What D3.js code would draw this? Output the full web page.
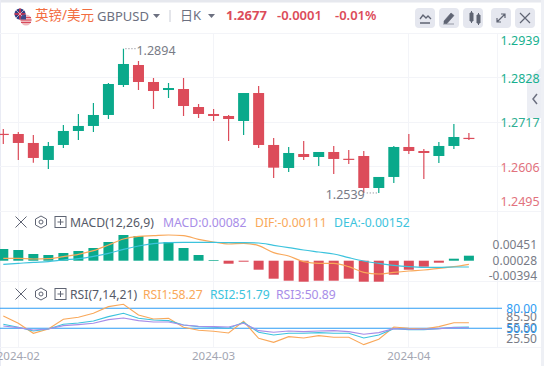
<!DOCTYPE html>
<html><head><meta charset="utf-8">
<style>html,body{margin:0;padding:0;background:#fff;overflow:hidden}svg{display:block}text{font-family:"Noto Sans","Noto Sans CJK SC",sans-serif}</style>
<script src="https://cdn.jsdelivr.net/npm/d3@7"></script></head><body>
<script>
const opens=[1.26875,1.26871,1.26647,1.26223,1.26597,1.26946,1.27071,1.27345,1.28093,1.28592,1.28168,1.27968,1.27993,1.27544,1.2737,1.2732,1.27195,1.27893,1.26597,1.26023,1.26372,1.26297,1.26422,1.26253,1.26322,1.25524,1.25799,1.26547,1.26447,1.26322,1.26572,1.26775];
const closes=[1.26865,1.26647,1.26273,1.26572,1.26946,1.27071,1.27345,1.28118,1.28617,1.28168,1.27943,1.28018,1.27569,1.2737,1.2732,1.27245,1.27893,1.26597,1.26031,1.26397,1.26297,1.26422,1.26248,1.26243,1.25524,1.25799,1.26547,1.26447,1.26397,1.26572,1.26796,1.26765];
const highs=[1.26996,1.26921,1.26846,1.26672,1.27095,1.2737,1.27644,1.28143,1.28998,1.28692,1.28268,1.28143,1.28268,1.27619,1.27495,1.27345,1.27893,1.28068,1.26771,1.26547,1.26696,1.26422,1.26572,1.26472,1.26447,1.25799,1.26572,1.26871,1.26497,1.26672,1.2712,1.26896];
const lows=[1.26622,1.26223,1.26155,1.25998,1.26522,1.26721,1.26921,1.27245,1.28043,1.27968,1.27495,1.27769,1.2732,1.2727,1.27195,1.26696,1.26846,1.26522,1.25774,1.25923,1.26223,1.26073,1.25873,1.26123,1.254,1.254,1.25649,1.26372,1.25749,1.26148,1.26497,1.26721];
const priceTicks=[1.2939,1.2828,1.2717,1.2606,1.2495];
const macdBars=[.00316,.00289,.00181,.00154,.00208,.00262,.00343,.00505,.00694,.00667,.00586,.00505,.00343,.00154,.00019,-.00081,-.00027,-.00243,-.00486,-.0054,-.00567,-.0054,-.0054,-.00486,-.00567,-.00567,-.00378,-.00243,-.00162,-.00054,.00054,.00135];
const difLine=[.00064,.00064,.00046,.00055,.00109,.00172,.00271,.00424,.00586,.00658,.00676,.00694,.00676,.00577,.00505,.00451,.00469,.00406,.00217,.00127,-.00026,-.00071,-.00071,-.00161,-.00314,-.00359,-.00314,-.00278,-.00251,-.00206,-.00161,-.00098];
const deaLine=[-.00098,-.00071,-.00044,-.00026,.00019,.00055,.00118,.00199,.00307,.00397,.0046,.00487,.00496,.00496,.00496,.00487,.00487,.00478,.00415,.00352,.00289,.00235,.00181,.00082,-.00008,-.00071,-.00125,-.00161,-.00179,-.00179,-.0017,-.0017];
const macdTicks=[.00451,.00028,-.00394];
const rsi1=[68.5,57.5,42.5,49,63.5,66.5,72.5,82.5,86,70,64,65,51.5,47,45.5,43,60.5,35,29,37.5,35.5,39,36.5,36.5,25.5,33.5,52,50,49,52.5,58.27,58.27];
const rsi2=[56,51.5,46,49,56,58,61,67.5,72.5,65,62.5,61.5,55,52.5,51.5,50,59,44,40,42.5,42.5,43.5,42.5,42.5,35.5,40,49.5,48,48,49.5,51.5,51.79];
const rsi3=[53.5,51,47.5,49,54,55.5,57.5,63,65.5,61.5,59.5,59.5,55,53,52.5,52,57.5,46.5,44,46,45,46,46.5,45,41,43.5,49.5,48.5,48.5,49.5,51,50.89];
const rsiLevels=[80,50];
const rsiTicks=[85.5,55.5,25.5];
const dateLabels=[["2024-02",1],["2024-03",14],["2024-04",27]];

const W=544,H=366,GREEN="#0aa98b",RED="#dc4c5a",GRID="#f3f4f8",GRAY="#787b86";
const svg=d3.select("body").append("svg").attr("width",W).attr("height",H);
const x=d3.scaleLinear().domain([0,31]).range([3.3,468.9]);
const y=d3.scaleLinear().domain([1.2939,1.2495]).range([33,211]);
const ym=d3.scaleLinear().domain([0,.00451]).range([260.7,244]);
const yr=d3.scaleLinear().domain([80,50]).range([308.3,328.3]);
const yrt=d3.scaleLinear().domain([85.5,25.5]).range([316.2,338.2]);
const n=opens.length, idx=d3.range(n);

// page frame
svg.append("rect").attr("width",W).attr("height",H).attr("fill","#fff");
svg.append("rect").attr("width",W).attr("height",2.5).attr("fill","#e6e8ee");
svg.append("rect").attr("x",541).attr("width",3).attr("height",H).attr("fill","#eef0f5");
svg.append("rect").attr("width",1).attr("height",H).attr("fill","#e9ebf4");

// side tab, behind the axis labels
svg.append("path").attr("d","M527 79L541 68V118L527 118Z").attr("fill","#eceef4");
svg.append("path").attr("d","M537 94l-4 5 4 5").attr("fill","none").attr("stroke","#6c7080").attr("stroke-width",1.5);

// grid
const grid=svg.append("g").attr("stroke",GRID).attr("stroke-width",1).attr("shape-rendering","crispEdges");
[33,77.5,122,166.5,211,281.7,347.5].forEach(v=>grid.append("line").attr("x1",0).attr("x2",541).attr("y1",v).attr("y2",v));
dateLabels.forEach(d=>grid.append("line").attr("x1",x(d[1])).attr("x2",x(d[1])).attr("y1",33).attr("y2",347));
grid.append("line").attr("x1",497).attr("x2",497).attr("y1",33).attr("y2",347);

// candles
const color=i=>closes[i]>=opens[i]?GREEN:RED;
const c=svg.append("g");
c.selectAll("line").data(idx).join("line").attr("x1",x).attr("x2",x)
 .attr("y1",i=>y(highs[i])).attr("y2",i=>y(lows[i])).attr("stroke",color).attr("stroke-width",1.2);
c.selectAll("rect").data(idx).join("rect").attr("x",i=>x(i)-5.5).attr("width",11)
 .attr("y",i=>Math.min(y(opens[i]),y(closes[i])))
 .attr("height",i=>Math.max(1.2,Math.abs(y(opens[i])-y(closes[i])))).attr("fill",color);

// extremes
const hi=d3.greatestIndex(highs), lo=d3.leastIndex(lows);
svg.append("line").attr("x1",x(hi)+2).attr("x2",x(hi)+12).attr("y1",y(highs[hi])).attr("y2",y(highs[hi])).attr("stroke",GRAY).attr("stroke-dasharray","1 2");
svg.append("text").attr("x",x(hi)+13).attr("y",y(highs[hi])+6.5).attr("font-size",12.5).attr("fill",GRAY).text("1.2894");
svg.append("line").attr("x1",x(lo)+3).attr("x2",x(lo)+14).attr("y1",y(lows[lo])).attr("y2",y(lows[lo])).attr("stroke",GRAY).attr("stroke-dasharray","1 2");
svg.append("text").attr("x",x(lo)+1).attr("y",y(lows[lo])+6.5).attr("text-anchor","end").attr("font-size",12.5).attr("fill",GRAY).text("1.2539");

// price axis
const tickColors=["#17b08f","#17b08f","#2fae93","#e2727d","#e2727d"];
svg.selectAll(".pt").data(priceTicks).join("text").attr("x",500.5).attr("font-size",12.5)
 .attr("y",d=>Math.min(206,Math.max(45,y(d)+5)))
 .attr("fill",(d,i)=>tickColors[i]).text(d=>d.toFixed(4));

// MACD
svg.append("g").selectAll("rect").data(idx).join("rect").attr("x",i=>x(i)-5).attr("width",10)
 .attr("y",i=>Math.min(ym(0),ym(macdBars[i])))
 .attr("height",i=>Math.abs(ym(0)-ym(macdBars[i]))).attr("fill",i=>macdBars[i]>=0?GREEN:RED);
const lm=d3.line().x((d,i)=>x(i)).y(d=>ym(d)).curve(d3.curveMonotoneX);
svg.append("path").attr("d",lm(difLine)).attr("fill","none").attr("stroke","#f9a85a").attr("stroke-width",1.2);
svg.append("path").attr("d",lm(deaLine)).attr("fill","none").attr("stroke","#3cc3dd").attr("stroke-width",1.2);
svg.selectAll(".mt").data(macdTicks).join("text").attr("x",537).attr("text-anchor","end").attr("font-size",12)
 .attr("y",d=>ym(d)+5).attr("fill",GRAY).text(d=>d.toFixed(5));

// RSI
rsiLevels.forEach(v=>svg.append("line").attr("x1",0).attr("x2",502).attr("y1",yr(v)).attr("y2",yr(v)).attr("stroke","#2d9cf4").attr("stroke-width",1.1));
const lr=d3.line().x((d,i)=>x(i)).y(d=>yr(d));
[[rsi1,"#f9a85a"],[rsi2,"#3cc3dd"],[rsi3,"#a88de8"]].forEach(s=>svg.append("path").attr("d",lr(s[0])).attr("fill","none").attr("stroke",s[1]).attr("stroke-width",1.1));
svg.selectAll(".rt").data(rsiTicks).join("text").attr("x",537).attr("text-anchor","end").attr("font-size",12)
 .attr("y",d=>yrt(d)+4.5).attr("fill",GRAY).text(d=>d.toFixed(2));
rsiLevels.forEach(v=>svg.append("text").attr("x",537).attr("text-anchor","end").attr("font-size",12)
 .attr("y",yr(v)+4.5).attr("fill","#2d9cf4").text(v.toFixed(2)));

// dates
svg.selectAll(".dt").data(dateLabels).join("text").attr("x",d=>x(d[1])).attr("y",360).attr("text-anchor","middle")
 .attr("font-size",11.5).attr("fill","#a3a6b2").text(d=>d[0]);

// header
const txt=(t,px,py,sz,fill,w)=>svg.append("text").attr("x",px).attr("y",py).attr("font-size",sz).attr("fill",fill).attr("font-weight",w||400).text(t);
const uk=svg.append("g");
uk.append("circle").attr("cx",20).attr("cy",14).attr("r",5.5).attr("fill","#2b3f86");
uk.append("path").attr("d","M14.5 14H25.5M20 8.5V19.5").attr("stroke","#d8324a").attr("stroke-width",1.6);
uk.append("path").attr("d","M16 10L24 18M24 10L16 18").attr("stroke","#f2c8cc").attr("stroke-width",.8);
const us=svg.append("g");
us.append("circle").attr("cx",26).attr("cy",20).attr("r",5.5).attr("fill","#eeb9bd");
us.append("path").attr("d","M21 17.5H31M20.5 20H31.5M21 22.5H31").attr("stroke","#d8485a").attr("stroke-width",1);
us.append("path").attr("d","M20.5 19.5A5.5 5.5 0 0 1 26 14.5V19.5Z").attr("fill","#3a4a8c");
txt("英镑/美元",35,20,13.5,"#f26d3f");
txt("GBPUSD",97,21,13,"#6c7080");
const caret=(cx,cy)=>svg.append("path").attr("d",`M${cx-3.5} ${cy-2}h7l-3.5 4z`).attr("fill","#6c7080");
caret(156.5,16); caret(211.5,16);
svg.append("line").attr("x1",170).attr("x2",170).attr("y1",10).attr("y2",22).attr("stroke","#c9ccd6");
txt("日K",180,20,13,"#6c7080");
txt("1.2677",226,20,13,RED,700);
txt("-0.0001",277,20,13,RED,600);
txt("-0.01%",335,20,13,RED,600);
[415,439,463,491,515].forEach(bx=>svg.append("rect").attr("x",bx).attr("y",8).attr("width",20).attr("height",20).attr("rx",4).attr("fill","#e5e7ef"));
const IC="#5f6473";
svg.append("path").attr("d","M420 19l3-4 3 3 2-2 3 3M420 23h10").attr("fill","none").attr("stroke",IC).attr("stroke-width",1.3);
svg.append("path").attr("d","M444 21l7-8 3 2.5-7 8h-3zM443 24h11").attr("fill",IC).attr("stroke",IC).attr("stroke-width",.6);
svg.append("path").attr("d","M470 13h3v8h-3zM477 15h3v8h-3zM471.500 11v12M478.500 13v12").attr("fill",IC).attr("stroke",IC);
svg.append("path").attr("d","M497 22l8-8M501 14h4v4M497 18v4h4").attr("fill","none").attr("stroke",IC).attr("stroke-width",1.2);
svg.append("path").attr("d","M520 13l10 10M530 13l-10 10").attr("stroke",IC).attr("stroke-width",1.2);

// pane rows
function row(cy){
 svg.append("path").attr("d",`M15.500 ${cy-5.500}l11 11M26.500 ${cy-5.500}l-11 11`).attr("stroke",IC).attr("stroke-width",1);
 svg.append("path").attr("d",`M41 ${cy-6}l5.500 3v6l-5.500 3l-5.500-3v-6z`).attr("fill","none").attr("stroke",IC).attr("stroke-width",1);
 svg.append("circle").attr("cx",41).attr("cy",cy).attr("r",2).attr("fill","none").attr("stroke",IC);
 svg.append("rect").attr("x",55).attr("y",cy-5.500).attr("width",11).attr("height",11).attr("fill","none").attr("stroke",IC);
 svg.append("path").attr("d",`M57.500 ${cy}h6M60.500 ${cy-3}v6`).attr("stroke",IC);
}
row(222); row(294);
txt("MACD(12,26,9)",70,226.500,12.2,"#555a68");
txt("MACD:0.00082",163,226.500,12.2,"#a88de8");
txt("DIF:-0.00111",255,226.500,12.2,"#f9a85a");
txt("DEA:-0.00152",334,226.500,12.2,"#3cc3dd");
txt("RSI(7,14,21)",70,298.500,12.2,"#555a68");
txt("RSI1:58.27",143,298.500,12.2,"#f9a85a");
txt("RSI2:51.79",210,298.500,12.2,"#3cc3dd");
txt("RSI3:50.89",276,298.500,12.2,"#a88de8");
</script></body></html>
